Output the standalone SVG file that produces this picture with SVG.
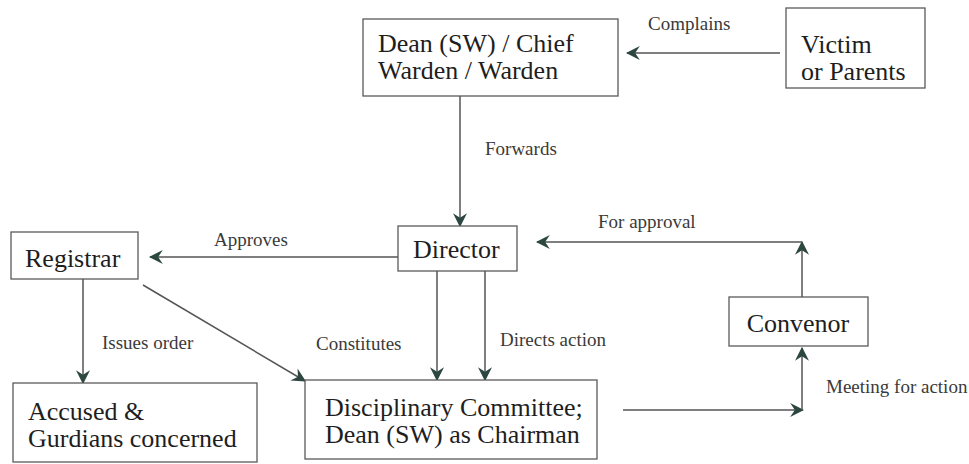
<svg xmlns="http://www.w3.org/2000/svg" width="969" height="464" viewBox="0 0 969 464">
  <style>
    .box { fill: #ffffff; stroke: #5a5a5a; stroke-width: 1.3; }
    .node { font-size: 26px; fill: #1e1e1e; }
    .lbl { font-size: 19px; fill: #3a3a3a; }
    .edge { fill: none; stroke: #555; stroke-width: 1.5; }
  </style>
  <defs>
    <marker id="arr" viewBox="0 0 12 12" refX="11" refY="6" markerWidth="14" markerHeight="14" markerUnits="userSpaceOnUse" orient="auto">
      <path d="M0,0 L12,6 L0,12 L4,6 z" fill="#2c4740"/>
    </marker>
  </defs>
  <rect width="969" height="464" fill="#ffffff"/>

  <g font-family="Liberation Serif, DejaVu Serif, serif">
  <!-- connectors -->
  <g id="connectors">
    <path class="edge" d="M780,53 L627,53" marker-end="url(#arr)"/>
    <path class="edge" d="M460,96 L460,226" marker-end="url(#arr)"/>
    <path class="edge" d="M398,257 L150,257" marker-end="url(#arr)"/>
    <path class="edge" d="M802,297 L802,242" marker-end="url(#arr)"/>
    <path class="edge" d="M802,242 L537,242" marker-end="url(#arr)"/>
    <path class="edge" d="M437,271 L437,380" marker-end="url(#arr)"/>
    <path class="edge" d="M485,271 L485,380" marker-end="url(#arr)"/>
    <path class="edge" d="M83,279 L83,383" marker-end="url(#arr)"/>
    <path class="edge" d="M143,285 L305,381" marker-end="url(#arr)"/>
    <path class="edge" d="M623,410 L803,410" marker-end="url(#arr)"/>
    <path class="edge" d="M802,410 L802,348" marker-end="url(#arr)"/>

    <text class="lbl" x="648" y="30">Complains</text>
    <text class="lbl" x="485" y="155">Forwards</text>
    <text class="lbl" x="214" y="246">Approves</text>
    <text class="lbl" x="598" y="228">For approval</text>
    <text class="lbl" x="102" y="349">Issues order</text>
    <text class="lbl" x="316" y="350">Constitutes</text>
    <text class="lbl" x="500" y="346">Directs action</text>
    <text class="lbl" x="826" y="393">Meeting for action</text>
  </g>

  <g id="dean">
    <rect class="box" x="363" y="19" width="255" height="77"/>
    <text class="node" x="378" y="52">Dean (SW) / Chief</text>
    <text class="node" x="378" y="79">Warden / Warden</text>
  </g>

  <g id="victim">
    <rect class="box" x="786" y="8" width="139" height="80"/>
    <text class="node" x="801" y="53">Victim</text>
    <text class="node" x="801" y="80">or Parents</text>
  </g>

  <g id="director">
    <rect class="box" x="398" y="226" width="119" height="45"/>
    <text class="node" x="413" y="258">Director</text>
  </g>

  <g id="registrar">
    <rect class="box" x="11" y="232" width="127" height="47"/>
    <text class="node" x="25" y="267">Registrar</text>
  </g>

  <g id="convenor">
    <rect class="box" x="729" y="297" width="139" height="49"/>
    <text class="node" x="798" y="332" text-anchor="middle">Convenor</text>
  </g>

  <g id="accused">
    <rect class="box" x="13" y="383" width="244" height="79"/>
    <text class="node" x="28" y="420">Accused &amp;</text>
    <text class="node" x="28" y="447">Gurdians concerned</text>
  </g>

  <g id="committee">
    <rect class="box" x="305" y="380" width="292" height="79"/>
    <text class="node" x="325" y="416">Disciplinary Committee;</text>
    <text class="node" x="325" y="443">Dean (SW) as Chairman</text>
  </g>
  </g>
</svg>
